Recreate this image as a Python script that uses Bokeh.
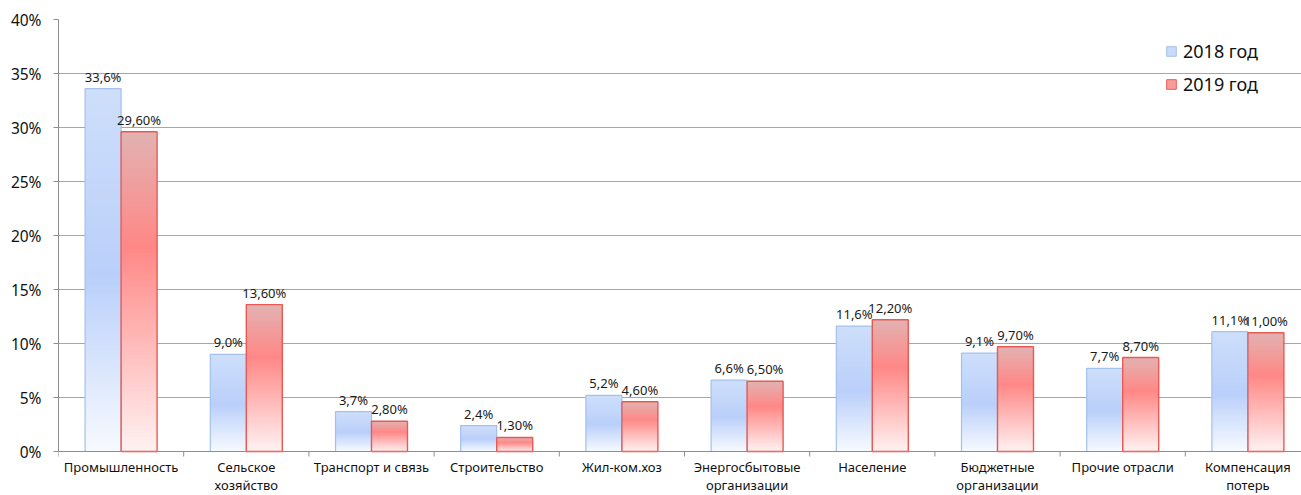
import numpy as np
from bokeh.plotting import figure
from bokeh.models import Range1d, FixedTicker, Legend, LegendItem, ColumnDataSource, Span
from bokeh.embed import file_html
from bokeh.resources import INLINE
from bokeh.core.properties import value

# ---------------- data ----------------
categories = ["Промышленность", "Сельское\nхозяйство", "Транспорт и связь", "Строительство",
              "Жил-ком.хоз", "Энергосбытовые\nорганизации", "Население",
              "Бюджетные\nорганизации", "Прочие отрасли", "Компенсация\nпотерь"]
values_2018 = [33.6, 9.0, 3.7, 2.4, 5.2, 6.6, 11.6, 9.1, 7.7, 11.1]
values_2019 = [29.6, 13.6, 2.8, 1.3, 4.6, 6.5, 12.2, 9.7, 8.7, 11.0]
labels_2018 = ["33,6%", "9,0%", "3,7%", "2,4%", "5,2%", "6,6%", "11,6%", "9,1%", "7,7%", "11,1%"]
labels_2019 = ["29,60%", "13,60%", "2,80%", "1,30%", "4,60%", "6,50%", "12,20%", "9,70%", "8,70%", "11,00%"]
series_names = ["2018 год", "2019 год"]
y_ticks = [0, 5, 10, 15, 20, 25, 30, 35, 40]

# ---------------- styling / layout ----------------
FONT = "Noto Sans"
W, H = 1301, 495
LEFT, TOP, BOTTOM = 58, 19, 44          # px around the value area
Y_MAX = 40
PX_PER_UNIT = (H - TOP - BOTTOM) / Y_MAX
Y_MIN = -BOTTOM / PX_PER_UNIT           # room below zero for the category labels
X_END = (W - LEFT) / 125.2              # category slot ~125 px, last slot cut at the edge
TICK_LEN = 5 / PX_PER_UNIT
OVERLAP = 0.8 / PX_PER_UNIT
BAR_W = 0.2875
BLUE_STOPS = [(0.0, (247, 250, 255)), (0.48, (186, 207, 250)), (1.0, (206, 223, 251))]
RED_STOPS = [(0.0, (255, 242, 242)), (0.64, (255, 136, 134)), (1.0, (226, 178, 178))]
BLUE_LINE = "#a3c1ec"
RED_LINE = "#ea5a55"
AXIS_COLOR = "#8e8e8e"
N_SLICES = 90


def grad_color(stops, t):
    for (p0, c0), (p1, c1) in zip(stops[:-1], stops[1:]):
        if t <= p1:
            f = (t - p0) / (p1 - p0) if p1 > p0 else 0.0
            c = [round(a + (b - a) * f) for a, b in zip(c0, c1)]
            return "#%02x%02x%02x" % tuple(c)
    return "#%02x%02x%02x" % stops[-1][1]


def gradient_source(lefts, rights, heights, stops):
    L, R, B, T, C = [], [], [], [], []
    for l, r, h in zip(lefts, rights, heights):
        for k in range(N_SLICES):
            L.append(l)
            R.append(r)
            B.append(h * k / N_SLICES)
            T.append(min(h, h * (k + 1) / N_SLICES + OVERLAP))
            C.append(grad_color(stops, (k + 0.5) / N_SLICES))
    return ColumnDataSource(dict(left=L, right=R, bottom=B, top=T, color=C))


idx = np.arange(len(categories))
centers = idx + 0.5
boundaries = np.arange(len(categories) + 1)
b_left, b_right = centers - BAR_W, centers
r_left, r_right = centers, centers + BAR_W

p = figure(width=W, height=H, output_backend="svg", toolbar_location=None,
           x_axis_type=None,
           x_range=Range1d(0, X_END), y_range=Range1d(Y_MIN, Y_MAX),
           min_border_left=LEFT, min_border_right=0, min_border_top=TOP, min_border_bottom=0)
p.outline_line_color = None
p.background_fill_color = "white"
p.border_fill_color = "white"

# horizontal grid
p.xgrid.visible = False
p.ygrid.ticker = FixedTicker(ticks=y_ticks)
p.ygrid.grid_line_color = "#a6a6a6"
p.ygrid.grid_line_width = 1

# gradient bars
p.quad(left="left", right="right", bottom="bottom", top="top", fill_color="color",
       line_color=None, source=gradient_source(b_left, b_right, values_2018, BLUE_STOPS))
p.quad(left="left", right="right", bottom="bottom", top="top", fill_color="color",
       line_color=None, source=gradient_source(r_left, r_right, values_2019, RED_STOPS))
# outlines
p.quad(left=b_left, right=b_right, bottom=0, top=values_2018, fill_color=None,
       line_color=BLUE_LINE, line_width=1.2)
p.quad(left=r_left, right=r_right, bottom=0, top=values_2019, fill_color=None,
       line_color=RED_LINE, line_width=1.4)

# category axis: base line and boundary ticks
p.add_layout(Span(location=0, dimension="width", line_color=AXIS_COLOR, line_width=1))
p.segment(x0=boundaries, y0=0, x1=boundaries, y1=-TICK_LEN, line_color=AXIS_COLOR, line_width=1)

# category labels
p.text(x=centers, y=[0] * len(categories), text=categories, text_align="center",
       text_baseline="top", y_offset=6, text_font=value(FONT), text_font_size="13px",
       text_color="#111111", text_line_height=1.0)

# value labels
p.text(x=centers - BAR_W / 2, y=values_2018, text=labels_2018, text_align="center",
       text_baseline="alphabetic", y_offset=-12, text_font=value(FONT), text_font_size="13px",
       text_color="#1a1a1a")
p.text(x=centers + BAR_W / 2, y=values_2019, text=labels_2019, text_align="center",
       text_baseline="alphabetic", y_offset=-12, text_font=value(FONT), text_font_size="13px",
       text_color="#1a1a1a")

# legend
leg_b = p.quad(left=[np.nan], right=[np.nan], bottom=[np.nan], top=[np.nan],
               fill_color="#c8dbfa", line_color=BLUE_LINE)
leg_r = p.quad(left=[np.nan], right=[np.nan], bottom=[np.nan], top=[np.nan],
               fill_color="#f89c9a", line_color=RED_LINE)
legend = Legend(items=[LegendItem(label=series_names[0], renderers=[leg_b]),
                       LegendItem(label=series_names[1], renderers=[leg_r])],
                location=(1107, 355 + BOTTOM), orientation="vertical",
                background_fill_alpha=0, border_line_color=None, padding=0, margin=0,
                spacing=9, glyph_width=12, glyph_height=12, label_standoff=6,
                label_text_font=FONT, label_text_font_size="18px", label_text_color="#111111",
                label_height=20)
p.add_layout(legend)

# value axis
ay = p.yaxis[0]
ay.ticker = FixedTicker(ticks=y_ticks, minor_ticks=[])
ay.bounds = (0, Y_MAX)
ay.major_label_overrides = {t: f"{t}%" for t in y_ticks}
ay.major_tick_out = 5
ay.major_tick_in = 0
ay.major_tick_line_color = AXIS_COLOR
ay.axis_line_color = AXIS_COLOR
ay.major_label_text_font = FONT
ay.major_label_text_font_size = "15.5px"
ay.major_label_text_color = "#111111"
ay.major_label_standoff = 12

open("out.html", "w").write(file_html(p, INLINE))
